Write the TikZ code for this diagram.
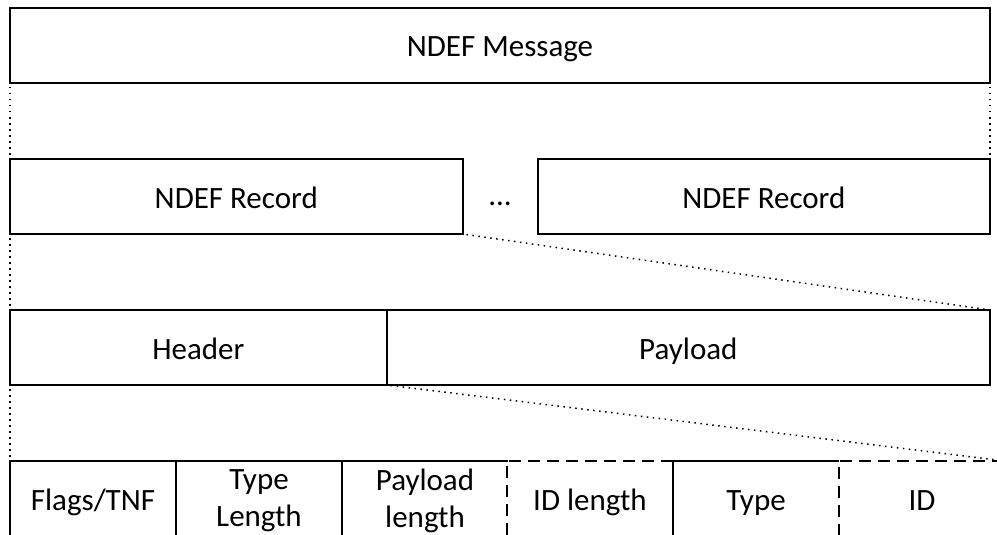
\documentclass[tikz,border=0pt]{standalone}
\usepackage{fontspec}
\setmainfont{Carlito}
\begin{document}
\begin{tikzpicture}[x=1pt,y=-1pt,
  every node/.style={font=\fontsize{31}{37}\selectfont, inner sep=0pt, outer sep=0pt, align=center},
  oneline/.style={text height=30pt, text depth=7pt},
  frame/.style={draw, line width=2pt, line join=miter},
  solidedge/.style={line width=2pt, line join=miter},
  optional/.style={line width=2pt, dash pattern=on 12pt off 7pt},
  guide/.style={line width=1.5pt, dash pattern=on 1.5pt off 4.5pt, shorten <=4pt, shorten >=4pt},
  cell/.style={minimum width=166pt, minimum height=75pt}]
\fill[white] (0,0) rectangle (997,535);
\useasboundingbox (0,0) rectangle (997,535);

% message level
\node[frame, oneline, minimum width=980pt, minimum height=75pt] (msg) at (500,45.5) {NDEF Message};

% record level
\node[frame, oneline, minimum width=452.5pt, minimum height=75pt] (rec1) at (236.25,196.5) {NDEF Record};
\node[oneline, anchor=base] (dots) at (500,205) {...};
\node[frame, oneline, minimum width=452.3pt, minimum height=75pt] (rec2) at (763.85,196.5) {NDEF Record};

% header / payload split
\node[frame, oneline, minimum width=376.7pt, minimum height=75pt] (head) at (198.35,347.5) {Header};
\node[frame, oneline, minimum width=603.3pt, minimum height=75pt] (pay) at (688.35,347.5) {Payload};

% header fields
\node[cell, oneline] (c1) at (93,498.5) {Flags/TNF};
\node[cell] (c2) at (259,498.5) {};
\node (t2) at ([yshift=-2pt]c2.center) {Type\\Length};
\node[cell] (c3) at (425,498.5) {};
\node (t3) at ([yshift=-2pt]c3.center) {Payload\\length};
\node[cell, oneline] (c4) at (590,498.5) {ID length};
\node[cell, oneline] (c5) at (756,498.5) {Type};
\node[cell, oneline] (c6) at (922,498.5) {ID};

% mandatory field borders
\draw[solidedge] (c1.south west) -- (c1.north west) -- (c3.north east);
\draw[solidedge] (c1.north east) -- (c1.south east);
\draw[solidedge] (c2.north east) -- (c2.south east);
\draw[solidedge] (c5.south west) -- (c5.north west) -- (c5.north east);
% optional field borders
\draw[optional] (c4.north east) -- (c4.north west) -- (c4.south west);
\draw[optional] (c6.south west) -- (c6.north west) -- (c6.north east);

% expansion guides
\draw[guide] (msg.south west) -- (rec1.north west);
\draw[guide] (msg.south east) -- (rec2.north east);
\draw[guide] (rec1.south west) -- (head.north west);
\draw[guide] (rec1.south east) -- (pay.north east);
\draw[guide] (head.south west) -- (c1.north west);
\draw[guide] (head.south east) -- (c6.north east);
\end{tikzpicture}
\end{document}
